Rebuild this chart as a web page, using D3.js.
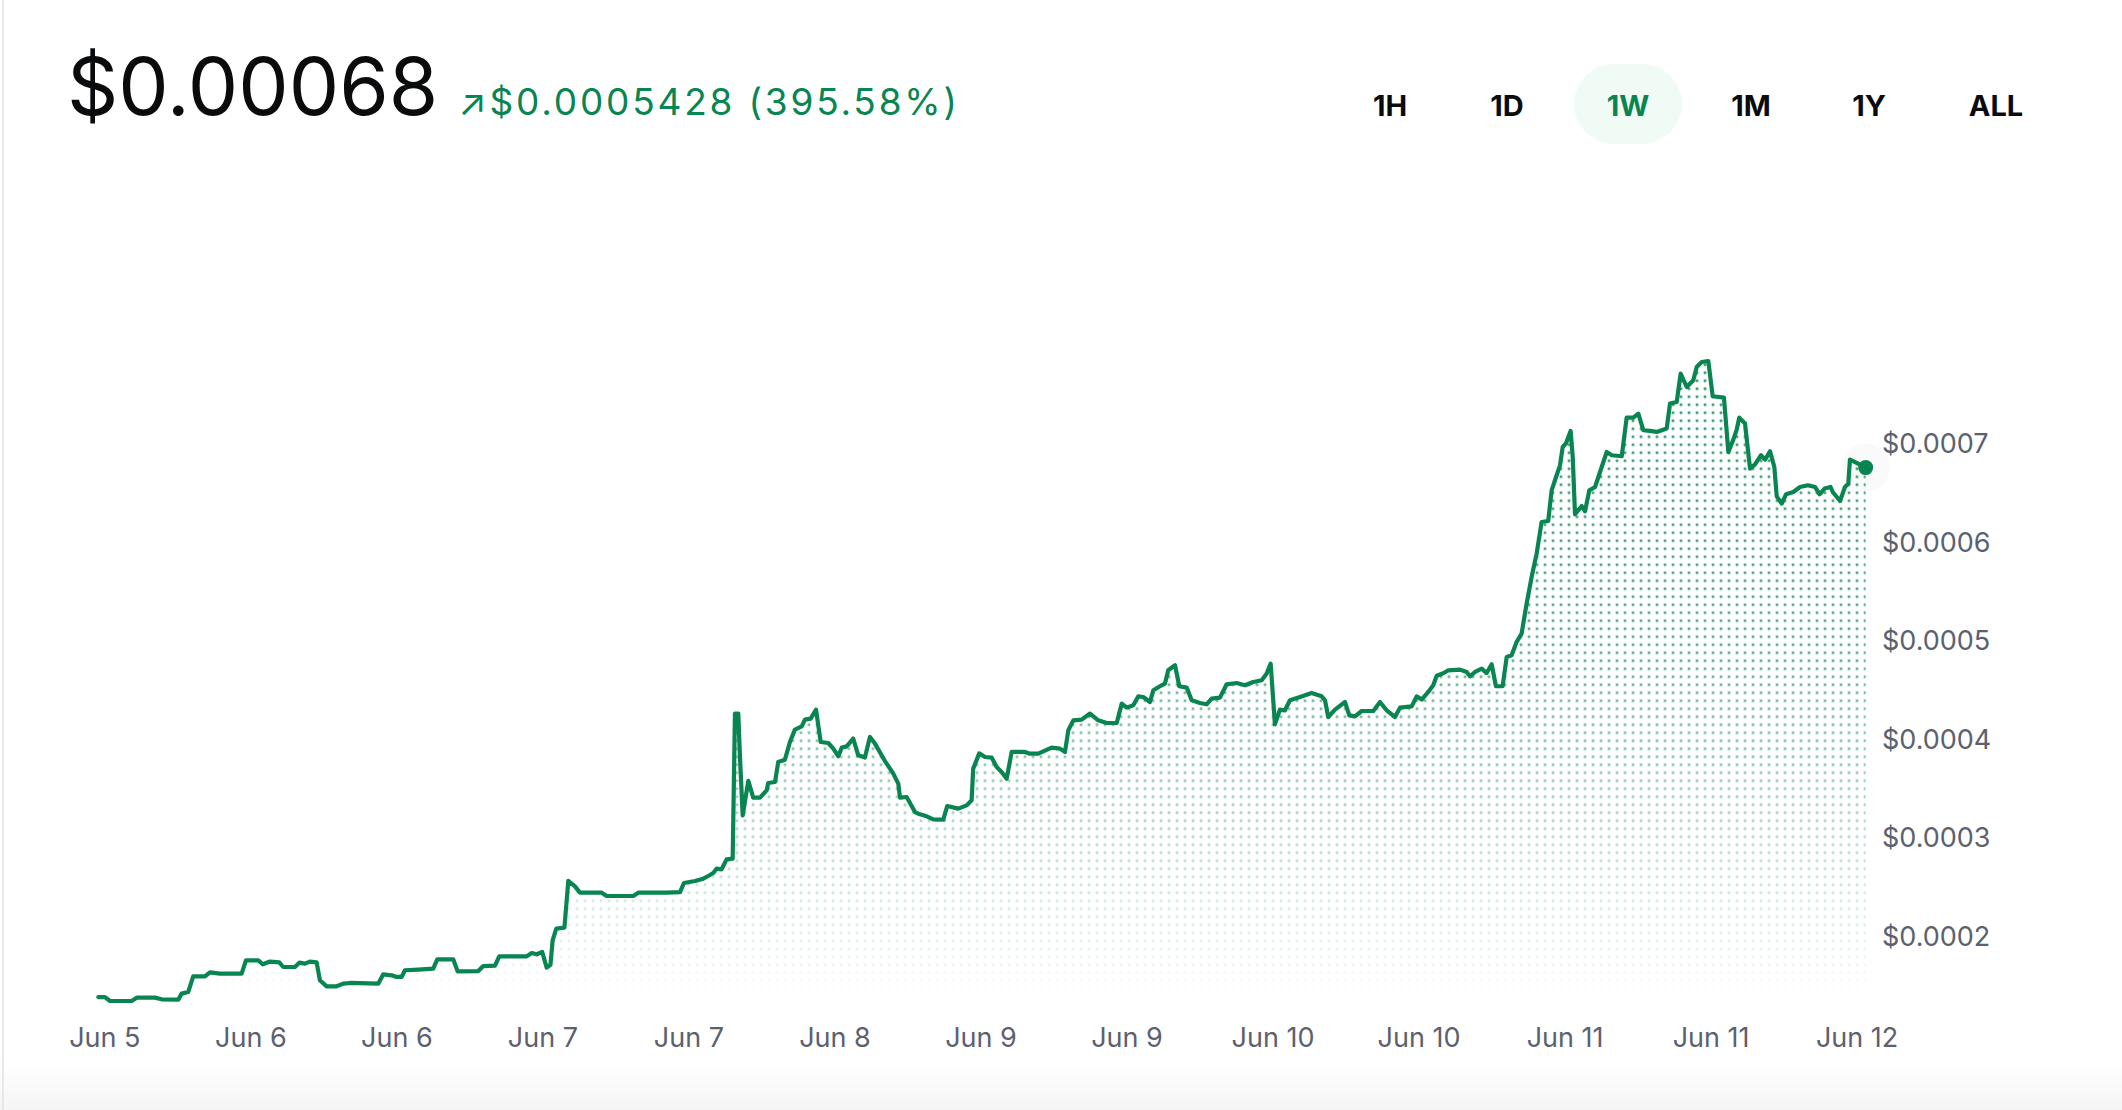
<!DOCTYPE html>
<html>
<head>
<meta charset="utf-8">
<script src="https://cdn.jsdelivr.net/npm/d3@7"></script>
<style>
  body { margin: 0; background: #ffffff; }
  text { font-family: Inter, "Noto Sans", sans-serif; }
</style>
</head>
<body>
<div id="container"></div>
<script>
/* CONSTANTS AND GLOBALS */
const width = 2122,
  height = 1110,
  green = "#098551";

// chart box (the line spans the whole x range, y range = data extent)
const plot = { left: 98.3, right: 1865.7, top: 361, bottom: 1001 };

/* DATA */
const startTick = new Date(2024, 5, 5, 13, 0); // first x tick ("Jun 5")

// hours after startTick for every price point
const hours = [-0.58, 0.06, 0.54, 2.62, 3.10, 4.85, 5.49, 7.09, 7.41, 8.04,
  8.52, 9.65, 10.12, 11.08, 13.16, 13.58, 14.76, 15.18, 15.88, 16.77,
  17.15, 18.27, 18.69, 19.23, 19.71, 20.35, 20.67, 21.31, 22.27, 22.91,
  23.55, 26.26, 26.74, 27.55, 28.02, 28.50, 28.82, 30.10, 31.53, 31.92,
  33.45, 33.87, 35.85, 36.33, 37.45, 37.86, 40.49, 40.97, 41.45, 41.98,
  42.41, 42.77, 42.98, 43.33, 44.11, 44.48, 45.12, 45.60, 47.68, 48.16,
  50.71, 51.19, 53.91, 55.19, 55.57, 56.63, 57.42, 57.90, 58.38, 58.71,
  59.18, 59.66, 60.24, 60.46, 60.78, 60.94, 61.20, 61.74, 62.21, 62.86,
  63.50, 63.65, 64.30, 64.61, 65.25, 65.73, 66.21, 66.86, 67.17, 67.72,
  68.23, 68.68, 69.41, 69.89, 70.37, 70.69, 71.17, 71.80, 72.28, 72.92,
  73.40, 73.88, 74.84, 75.64, 76.12, 76.28, 76.92, 77.72, 78.20, 78.84,
  79.47, 80.43, 80.81, 81.87, 82.67, 83.15, 83.30, 83.88, 84.43, 85.07,
  85.55, 86.03, 86.51, 86.99, 88.27, 88.74, 89.54, 90.82, 91.62, 92.10,
  92.42, 92.90, 93.70, 94.50, 95.29, 96.10, 97.06, 97.54, 98.02, 98.65,
  99.13, 99.61, 100.25, 100.57, 101.37, 101.69, 102.00, 102.65, 103.06, 103.77,
  104.25, 105.04, 105.68, 106.16, 106.96, 107.60, 108.56, 109.36, 110.15, 110.96,
  111.44, 111.82, 112.23, 112.71, 113.19, 113.67, 114.63, 115.75, 116.71, 117.03,
  117.34, 117.99, 118.95, 119.36, 119.91, 120.55, 121.66, 122.30, 122.94, 123.74,
  124.22, 125.34, 125.82, 126.30, 126.93, 127.41, 127.74, 128.37, 128.85, 129.97,
  130.61, 130.93, 131.41, 132.05, 132.53, 133.01, 133.42, 134.06, 134.45, 134.92,
  135.40, 135.88, 136.36, 136.84, 137.32, 137.80, 138.43, 138.76, 139.24, 139.56,
  139.82, 140.13, 140.58, 140.78, 141.00, 141.64, 141.96, 142.37, 142.92, 143.56,
  144.04, 144.52, 145.48, 145.95, 146.59, 147.07, 147.55, 148.19, 148.83, 149.79,
  150.11, 150.75, 151.13, 151.71, 152.34, 152.67, 153.15, 153.78, 154.20, 155.28,
  155.70, 156.18, 156.50, 156.75, 157.30, 157.78, 158.26, 158.83, 159.22, 159.70,
  160.11, 160.34, 160.82, 161.23, 161.93, 162.57, 163.33, 164.01, 164.45, 164.93,
  165.50, 165.71, 166.41, 166.88, 167.20, 167.36, 167.62, 168.87];

// price in USD
const prices = [0.0001373, 0.0001373, 0.0001333, 0.0001333, 0.0001367, 0.0001367, 0.0001350, 0.0001347, 0.0001408, 0.0001424,
  0.0001583, 0.0001583, 0.0001624, 0.0001611, 0.0001611, 0.0001746, 0.0001746, 0.0001706, 0.0001733, 0.0001726,
  0.0001678, 0.0001678, 0.0001722, 0.0001712, 0.0001733, 0.0001726, 0.0001543, 0.0001482, 0.0001482, 0.0001509,
  0.0001516, 0.0001509, 0.0001604, 0.0001594, 0.0001577, 0.0001577, 0.0001645, 0.0001652, 0.0001662, 0.0001756,
  0.0001756, 0.0001634, 0.0001637, 0.0001688, 0.0001692, 0.0001786, 0.0001786, 0.0001820, 0.0001807, 0.0001830,
  0.0001672, 0.0001700, 0.0001949, 0.0002068, 0.0002078, 0.0002553, 0.0002497, 0.0002433, 0.0002433, 0.0002399,
  0.0002399, 0.0002433, 0.0002433, 0.0002439, 0.0002531, 0.0002551, 0.0002575, 0.0002602, 0.0002632, 0.0002677,
  0.0002670, 0.0002771, 0.0002778, 0.0004251, 0.0004251, 0.0003810, 0.0003218, 0.0003567, 0.0003398, 0.0003398,
  0.0003472, 0.0003546, 0.0003556, 0.0003759, 0.0003783, 0.0003962, 0.0004088, 0.0004121, 0.0004190, 0.0004200,
  0.0004291, 0.0003962, 0.0003952, 0.0003895, 0.0003817, 0.0003905, 0.0003918, 0.0003997, 0.0003827, 0.0003804,
  0.0004013, 0.0003946, 0.0003769, 0.0003641, 0.0003540, 0.0003398, 0.0003404, 0.0003251, 0.0003228, 0.0003208,
  0.0003177, 0.0003174, 0.0003312, 0.0003286, 0.0003319, 0.0003370, 0.0003692, 0.0003847, 0.0003810, 0.0003804,
  0.0003708, 0.0003658, 0.0003590, 0.0003861, 0.0003861, 0.0003844, 0.0003844, 0.0003905, 0.0003895, 0.0003861,
  0.0004081, 0.0004182, 0.0004189, 0.0004251, 0.0004182, 0.0004155, 0.0004155, 0.0004352, 0.0004311, 0.0004335,
  0.0004426, 0.0004419, 0.0004368, 0.0004487, 0.0004538, 0.0004555, 0.0004690, 0.0004741, 0.0004528, 0.0004514,
  0.0004386, 0.0004358, 0.0004345, 0.0004403, 0.0004413, 0.0004548, 0.0004561, 0.0004538, 0.0004572, 0.0004589,
  0.0004657, 0.0004758, 0.0004142, 0.0004291, 0.0004284, 0.0004386, 0.0004419, 0.0004460, 0.0004426, 0.0004386,
  0.0004216, 0.0004291, 0.0004368, 0.0004233, 0.0004223, 0.0004277, 0.0004277, 0.0004368, 0.0004284, 0.0004216,
  0.0004311, 0.0004324, 0.0004426, 0.0004393, 0.0004470, 0.0004538, 0.0004634, 0.0004660, 0.0004690, 0.0004697,
  0.0004673, 0.0004629, 0.0004673, 0.0004707, 0.0004662, 0.0004751, 0.0004528, 0.0004528, 0.0004825, 0.0004842,
  0.0004977, 0.0005062, 0.0005367, 0.0005637, 0.0005875, 0.0006196, 0.0006206, 0.0006517, 0.0006670, 0.0006771,
  0.0006957, 0.0006992, 0.0007120, 0.0006856, 0.0006274, 0.0006358, 0.0006304, 0.0006517, 0.0006551, 0.0006754,
  0.0006906, 0.0006873, 0.0006863, 0.0007255, 0.0007255, 0.0007296, 0.0007127, 0.0007120, 0.0007110, 0.0007144,
  0.0007398, 0.0007414, 0.0007702, 0.0007566, 0.0007634, 0.0007769, 0.0007820, 0.0007830, 0.0007472, 0.0007458,
  0.0006906, 0.0007032, 0.0007134, 0.0007255, 0.0007195, 0.0006738, 0.0006781, 0.0006873, 0.0006829, 0.0006913,
  0.0006754, 0.0006456, 0.0006382, 0.0006477, 0.0006500, 0.0006551, 0.0006568, 0.0006551, 0.0006477, 0.0006535,
  0.0006551, 0.0006500, 0.0006409, 0.0006551, 0.0006585, 0.0006829, 0.0006815, 0.0006748];

// x axis ticks (hours after startTick) and their labels
const tickHours = [0, 14, 28, 42, 56, 70, 84, 98, 112, 126, 140, 154, 168];
const tickLabels = ["Jun 5", "Jun 6", "Jun 6", "Jun 7", "Jun 7", "Jun 8", "Jun 9",
  "Jun 9", "Jun 10", "Jun 10", "Jun 11", "Jun 11", "Jun 12"];

// y axis ticks
const yTicks = [0.0002, 0.0003, 0.0004, 0.0005, 0.0006, 0.0007];

// header
const currentPrice = "$0.00068";
const changeText = "\u2197$0.0005428 (395.58%)";
const ranges = ["1H", "1D", "1W", "1M", "1Y", "ALL"];
const activeRange = "1W";

const HOUR = 3600 * 1000;
const toDate = h => new Date(startTick.getTime() + h * HOUR);

let svg, xScale, yScale;
let data = [];

function init() {
  data = hours.map((h, i) => ({ date: toDate(h), price: prices[i] }));

  // + SCALES
  xScale = d3.scaleTime()
    .domain(d3.extent(data, d => d.date))
    .range([plot.left, plot.right]);

  yScale = d3.scaleLinear()
    .domain(d3.extent(data, d => d.price))
    .range([plot.bottom, plot.top]);

  // + CREATE SVG ELEMENT
  svg = d3.select("#container")
    .append("svg")
    .attr("width", width)
    .attr("height", height);

  const defs = svg.append("defs");

  // dotted fill
  const pattern = defs.append("pattern")
    .attr("id", "dots")
    .attr("patternUnits", "userSpaceOnUse")
    .attr("x", -3).attr("y", 0.7)
    .attr("width", 8).attr("height", 8);
  pattern.append("circle")
    .attr("cx", 4).attr("cy", 4).attr("r", 1.55)
    .attr("fill", green);

  // vertical fade of the dots
  const fade = defs.append("linearGradient")
    .attr("id", "fadeGrad")
    .attr("gradientUnits", "userSpaceOnUse")
    .attr("x1", 0).attr("x2", 0)
    .attr("y1", plot.top).attr("y2", plot.bottom);
  [[0, 0.82], [0.45, 0.66], [0.62, 0.47], [0.8, 0.24], [0.95, 0.06], [1, 0]].forEach(s => {
    fade.append("stop")
      .attr("offset", s[0])
      .attr("stop-color", "#fff")
      .attr("stop-opacity", s[1]);
  });
  defs.append("mask")
    .attr("id", "fadeMask")
    .attr("maskUnits", "userSpaceOnUse")
    .attr("x", 0).attr("y", 0).attr("width", width).attr("height", height)
    .append("rect")
    .attr("width", width).attr("height", height)
    .attr("fill", "url(#fadeGrad)");

  // bottom grey band
  const band = defs.append("linearGradient")
    .attr("id", "bandGrad")
    .attr("x1", 0).attr("x2", 0).attr("y1", 0).attr("y2", 1);
  band.append("stop").attr("offset", 0).attr("stop-color", "#ffffff");
  band.append("stop").attr("offset", 1).attr("stop-color", "#f5f5f5");

  svg.append("rect")
    .attr("x", 0).attr("y", 1062)
    .attr("width", width).attr("height", height - 1062)
    .attr("fill", "url(#bandGrad)");

  svg.append("line")
    .attr("x1", 3).attr("x2", 3)
    .attr("y1", 0).attr("y2", height)
    .attr("stroke", "#e2e2e2")
    .attr("stroke-width", 1.5);

  drawHeader();
  draw();
}

function drawHeader() {
  svg.append("text")
    .attr("x", 67).attr("y", 115)
    .attr("font-size", 80)
    .attr("fill", "#0a0b0d")
    .text(currentPrice);

  svg.append("text")
    .attr("x", 458).attr("y", 115)
    .attr("font-size", 37)
    .attr("letter-spacing", 2.8)
    .attr("fill", green)
    .text(changeText);

  // range buttons (centres of each label)
  const btnCentres = [1390, 1507, 1628, 1751, 1869, 1996];
  const btnX = d3.scaleOrdinal()
    .domain(ranges)
    .range(btnCentres);

  svg.append("rect")
    .attr("x", btnX(activeRange) - 54).attr("y", 64)
    .attr("width", 108).attr("height", 80)
    .attr("rx", 40)
    .attr("fill", "#f1fbf6");

  svg.selectAll("text.range")
    .data(ranges)
    .join("text")
    .attr("class", "range")
    .attr("x", d => btnX(d))
    .attr("y", 116)
    .attr("text-anchor", "middle")
    .attr("font-size", 29)
    .attr("font-weight", 700)
    .attr("fill", d => d === activeRange ? green : "#0a0b0d")
    .text(d => d);
}

function draw() {
  const lastPoint = data[data.length - 1];

  // faint halo behind the last price
  svg.append("circle")
    .attr("cx", xScale(lastPoint.date))
    .attr("cy", yScale(lastPoint.price))
    .attr("r", 24)
    .attr("fill", "#fafafa");

  const areaGen = d3.area()
    .x(d => xScale(d.date))
    .y0(plot.bottom)
    .y1(d => yScale(d.price));

  const lineGen = d3.line()
    .x(d => xScale(d.date))
    .y(d => yScale(d.price));

  svg.append("path")
    .datum(data)
    .attr("d", areaGen)
    .attr("fill", "url(#dots)")
    .attr("mask", "url(#fadeMask)");

  svg.append("path")
    .datum(data)
    .attr("d", lineGen)
    .attr("fill", "none")
    .attr("stroke", green)
    .attr("stroke-width", 4.2)
    .attr("stroke-linejoin", "round")
    .attr("stroke-linecap", "round");

  svg.append("circle")
    .attr("cx", xScale(lastPoint.date))
    .attr("cy", yScale(lastPoint.price))
    .attr("r", 7.5)
    .attr("fill", green);

  // + AXES
  const xAxis = d3.axisBottom(xScale)
    .tickValues(tickHours.map(toDate))
    .tickFormat((d, i) => tickLabels[i])
    .tickSize(0)
    .tickPadding(0);

  const xAxisGroup = svg.append("g")
    .attr("class", "xAxis")
    .attr("transform", `translate(0, ${1047})`)
    .call(xAxis);
  xAxisGroup.select(".domain").remove();
  xAxisGroup.selectAll("text")
    .attr("dy", 0)
    .attr("font-size", 27)
    .attr("font-family", "Inter, sans-serif")
    .attr("fill", "#5b616e");

  const yAxis = d3.axisRight(yScale)
    .tickValues(yTicks)
    .tickFormat(d => "$" + d.toFixed(4))
    .tickSize(0)
    .tickPadding(0);

  const yAxisGroup = svg.append("g")
    .attr("class", "yAxis")
    .attr("transform", `translate(${1882}, 0)`)
    .call(yAxis);
  yAxisGroup.select(".domain").remove();
  yAxisGroup.selectAll("text")
    .attr("dy", "0.36em")
    .attr("font-size", 27)
    .attr("font-family", "Inter, sans-serif")
    .attr("fill", "#5b616e");
}

init();
</script>
</body>
</html>
